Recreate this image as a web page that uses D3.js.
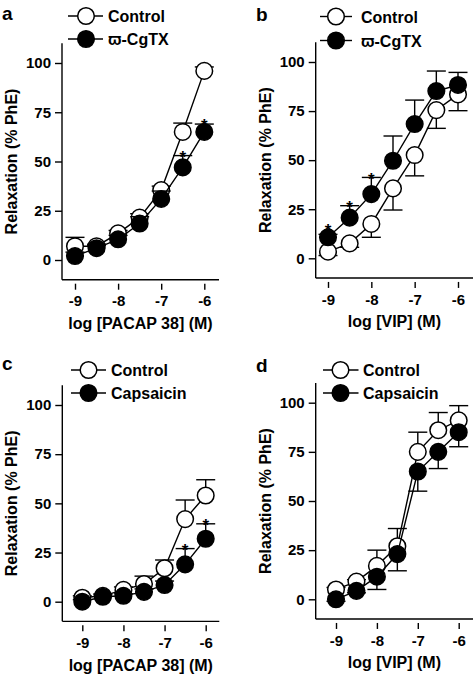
<!DOCTYPE html>
<html><head><meta charset="utf-8">
<script src="https://cdn.jsdelivr.net/npm/d3@7"></script>
<style>
html,body{margin:0;padding:0;background:#fff;}
svg{display:block;}
text{font-family:"Liberation Sans",Arial,Helvetica,sans-serif;font-weight:bold;fill:#000;}
</style></head>
<body>
<svg id="chart" width="474" height="674"></svg>
<script>
// ---- data ----
const concentrations = [-9, -8.5, -8, -7.5, -7, -6.5, -6];
const xTicks = [-9, -8, -7, -6];
const yTicks = [0, 25, 50, 75, 100];
const panelLabels = ["a", "b", "c", "d"];
const xTitles = ["log [PACAP 38] (M)", "log [VIP] (M)", "log [PACAP 38] (M)", "log [VIP] (M)"];
const yTitle = "Relaxation (% PhE)";
const legendNames = [["Control", "ϖ-CgTX"], ["Control", "ϖ-CgTX"], ["Control", "Capsaicin"], ["Control", "Capsaicin"]];

// panel a: PACAP 38, control vs ω-CgTX
const aControl = [7, 7, 13.5, 21.5, 35.5, 65, 96];
const aControlErr = [4.5, 1, 1.5, 2, 2, 4.5, 2];
const aDrug = [2, 6, 10.5, 18.5, 31, 47, 65];
const aDrugErr = [2, 1.5, 2, 3.5, 4, 6, 4];
const aStars = [-6.5, -6];
// panel b: VIP, control vs ω-CgTX
const bControl = [3.4, 7.6, 17.5, 35.6, 52.6, 75.5, 83.5];
const bControlErr = [2, 2, 6.8, 11, 10.6, 9.3, 8.3];
const bDrug = [10.7, 20.7, 32.7, 49.7, 68.4, 85.2, 88.3];
const bDrugErr = [1.5, 6.1, 8.5, 12.6, 12.2, 10.2, 6.4];
const bStars = [-9, -8.5, -8];
// panel c: PACAP 38, control vs capsaicin
const cControl = [2, 3, 6, 9, 17, 42, 54];
const cControlErr = [1, 1, 1.5, 4, 4.2, 9.7, 8];
const cDrug = [0, 2.5, 3, 5, 8.5, 19, 32];
const cDrugErr = [1, 1, 1, 1.5, 2, 8, 7.6];
const cStars = [-6.5, -6];
// panel d: VIP, control vs capsaicin
const dControl = [5, 9, 17, 27, 75, 86, 91];
const dControlErr = [1, 1, 8, 9, 10, 9, 7.5];
const dDrug = [0, 4.3, 11.5, 23, 65, 75, 85];
const dDrugErr = [1, 1, 6.5, 8.5, 10, 8.5, 7.4];
const dStars = [];

// ---- layout ----
const panels = [
  {ctrl: aControl, ctrlErr: aControlErr, drug: aDrug, drugErr: aDrugErr, stars: aStars, ctrlDir: -1, drugDir: -1,
   xr: [75, 204.3], axX: 62, axR: 219, yr: [260, 63], lab: [2, 20], leg: {l0: 68, l1: 103, c: 86, t: 108, y0: 16, y1: 39}},
  {ctrl: bControl, ctrlErr: bControlErr, drug: bDrug, drugErr: bDrugErr, stars: bStars, ctrlDir: 1, drugDir: -1,
   xr: [328, 458], axX: 315.7, axR: 473, yr: [258.3, 62], lab: [256, 20.5], leg: {l0: 320, l1: 352, c: 336, t: 361, y0: 16.5, y1: 40.5}},
  {ctrl: cControl, ctrlErr: cControlErr, drug: cDrug, drugErr: cDrugErr, stars: cStars, ctrlDir: -1, drugDir: -1,
   xr: [82.3, 205.7], axX: 62.3, axR: 219.3, yr: [601.7, 405], lab: [2, 370], leg: {l0: 71, l1: 106, c: 88.5, t: 111, y0: 370, y1: 393}},
  {ctrl: dControl, ctrlErr: dControlErr, drug: dDrug, drugErr: dDrugErr, stars: dStars, ctrlDir: -1, drugDir: 1,
   xr: [336, 458.7], axX: 315.7, axR: 473, yr: [599.3, 402.7], lab: [256, 371.5], leg: {l0: 323, l1: 358.5, c: 340.5, t: 363, y0: 370, y1: 393}}
];

const R = 8.3, CAP = 9.5;
const svg = d3.select("#chart");

panels.forEach((p, i) => {
  const x = d3.scaleLinear().domain([-9, -6]).range(p.xr);
  const y = d3.scaleLinear().domain([0, 100]).range(p.yr);
  const g = svg.append("g");
  const yBot = y(-10), yTop = y(110);

  // axes lines
  g.append("line").attr("x1", p.axX).attr("x2", p.axX).attr("y1", yTop).attr("y2", yBot)
    .attr("stroke", "#000").attr("stroke-width", 1.4);
  g.append("line").attr("x1", p.axX).attr("x2", p.axR).attr("y1", yBot).attr("y2", yBot)
    .attr("stroke", "#000").attr("stroke-width", 1.4);

  // y axis
  const ya = g.append("g").attr("transform", `translate(${p.axX},0)`)
    .call(d3.axisLeft(y).tickValues(yTicks).tickSize(7).tickPadding(4).tickFormat(d3.format("d")));
  ya.select(".domain").remove();
  ya.selectAll("line").attr("stroke-width", 1.4);
  ya.selectAll("text").attr("font-family", null).attr("font-size", null).style("font-size", "15px");

  // x axis (ticks detached below the axis line)
  const xa = g.append("g").attr("transform", `translate(0,${yBot + 4})`)
    .call(d3.axisBottom(x).tickValues(xTicks).tickSize(6).tickPadding(6).tickFormat(d3.format("d")));
  xa.select(".domain").remove();
  xa.selectAll("line").attr("stroke-width", 1.4);
  xa.selectAll("text").attr("font-family", null).attr("font-size", null).style("font-size", "15px")
    .text(d => "-" + Math.abs(d));

  // titles
  g.append("text").attr("x", (p.axX + p.axR) / 2).attr("y", yBot + 49.5)
    .attr("text-anchor", "middle").style("font-size", "16px").text(xTitles[i]);
  g.append("text").attr("transform", `translate(${p.axX - 45},${y(50)}) rotate(-90)`)
    .attr("text-anchor", "middle").style("font-size", "16px").text(yTitle);
  g.append("text").attr("x", p.lab[0]).attr("y", p.lab[1]).style("font-size", "19px").text(panelLabels[i]);

  // legend
  const L = p.leg;
  [[L.y0, "#fff", legendNames[i][0]], [L.y1, "#000", legendNames[i][1]]].forEach(([ly, fill, name]) => {
    g.append("line").attr("x1", L.l0).attr("x2", L.l1).attr("y1", ly).attr("y2", ly)
      .attr("stroke", "#000").attr("stroke-width", 1.4);
    g.append("circle").attr("cx", L.c).attr("cy", ly).attr("r", R)
      .attr("fill", fill).attr("stroke", "#000").attr("stroke-width", 1.5);
    g.append("text").attr("x", L.t).attr("y", ly + 6).style("font-size", "16px").text(name);
  });

  // series
  const series = [
    {vals: p.ctrl, err: p.ctrlErr, dir: p.ctrlDir, fill: "#fff", stars: []},
    {vals: p.drug, err: p.drugErr, dir: p.drugDir, fill: "#000", stars: p.stars}
  ];
  const line = d3.line().x(d => x(d[0])).y(d => y(d[1]));
  series.forEach(s => {
    const pts = concentrations.map((c, k) => [c, s.vals[k], s.err[k]]);
    g.append("path").datum(pts).attr("d", line).attr("fill", "none")
      .attr("stroke", "#000").attr("stroke-width", 1.4);
    // error bars
    pts.forEach(d => {
      const end = d[1] + (s.dir < 0 ? d[2] : -d[2]);
      g.append("line").attr("x1", x(d[0])).attr("x2", x(d[0])).attr("y1", y(d[1])).attr("y2", y(end))
        .attr("stroke", "#000").attr("stroke-width", 1.4);
      g.append("line").attr("x1", x(d[0]) - CAP).attr("x2", x(d[0]) + CAP).attr("y1", y(end)).attr("y2", y(end))
        .attr("stroke", "#000").attr("stroke-width", 1.4);
    });
    g.selectAll(null).data(pts).enter().append("circle")
      .attr("cx", d => x(d[0])).attr("cy", d => y(d[1])).attr("r", R)
      .attr("fill", s.fill).attr("stroke", "#000").attr("stroke-width", 1.5);
    // significance stars
    pts.filter(d => s.stars.includes(d[0])).forEach(d => {
      const top = Math.min(y(d[1] + d[2]), y(d[1]) - R);
      g.append("text").attr("x", x(d[0])).attr("y", top + 7.5).attr("text-anchor", "middle")
        .style("font-size", "17px").text("*");
    });
  });
});
</script>
</body></html>
